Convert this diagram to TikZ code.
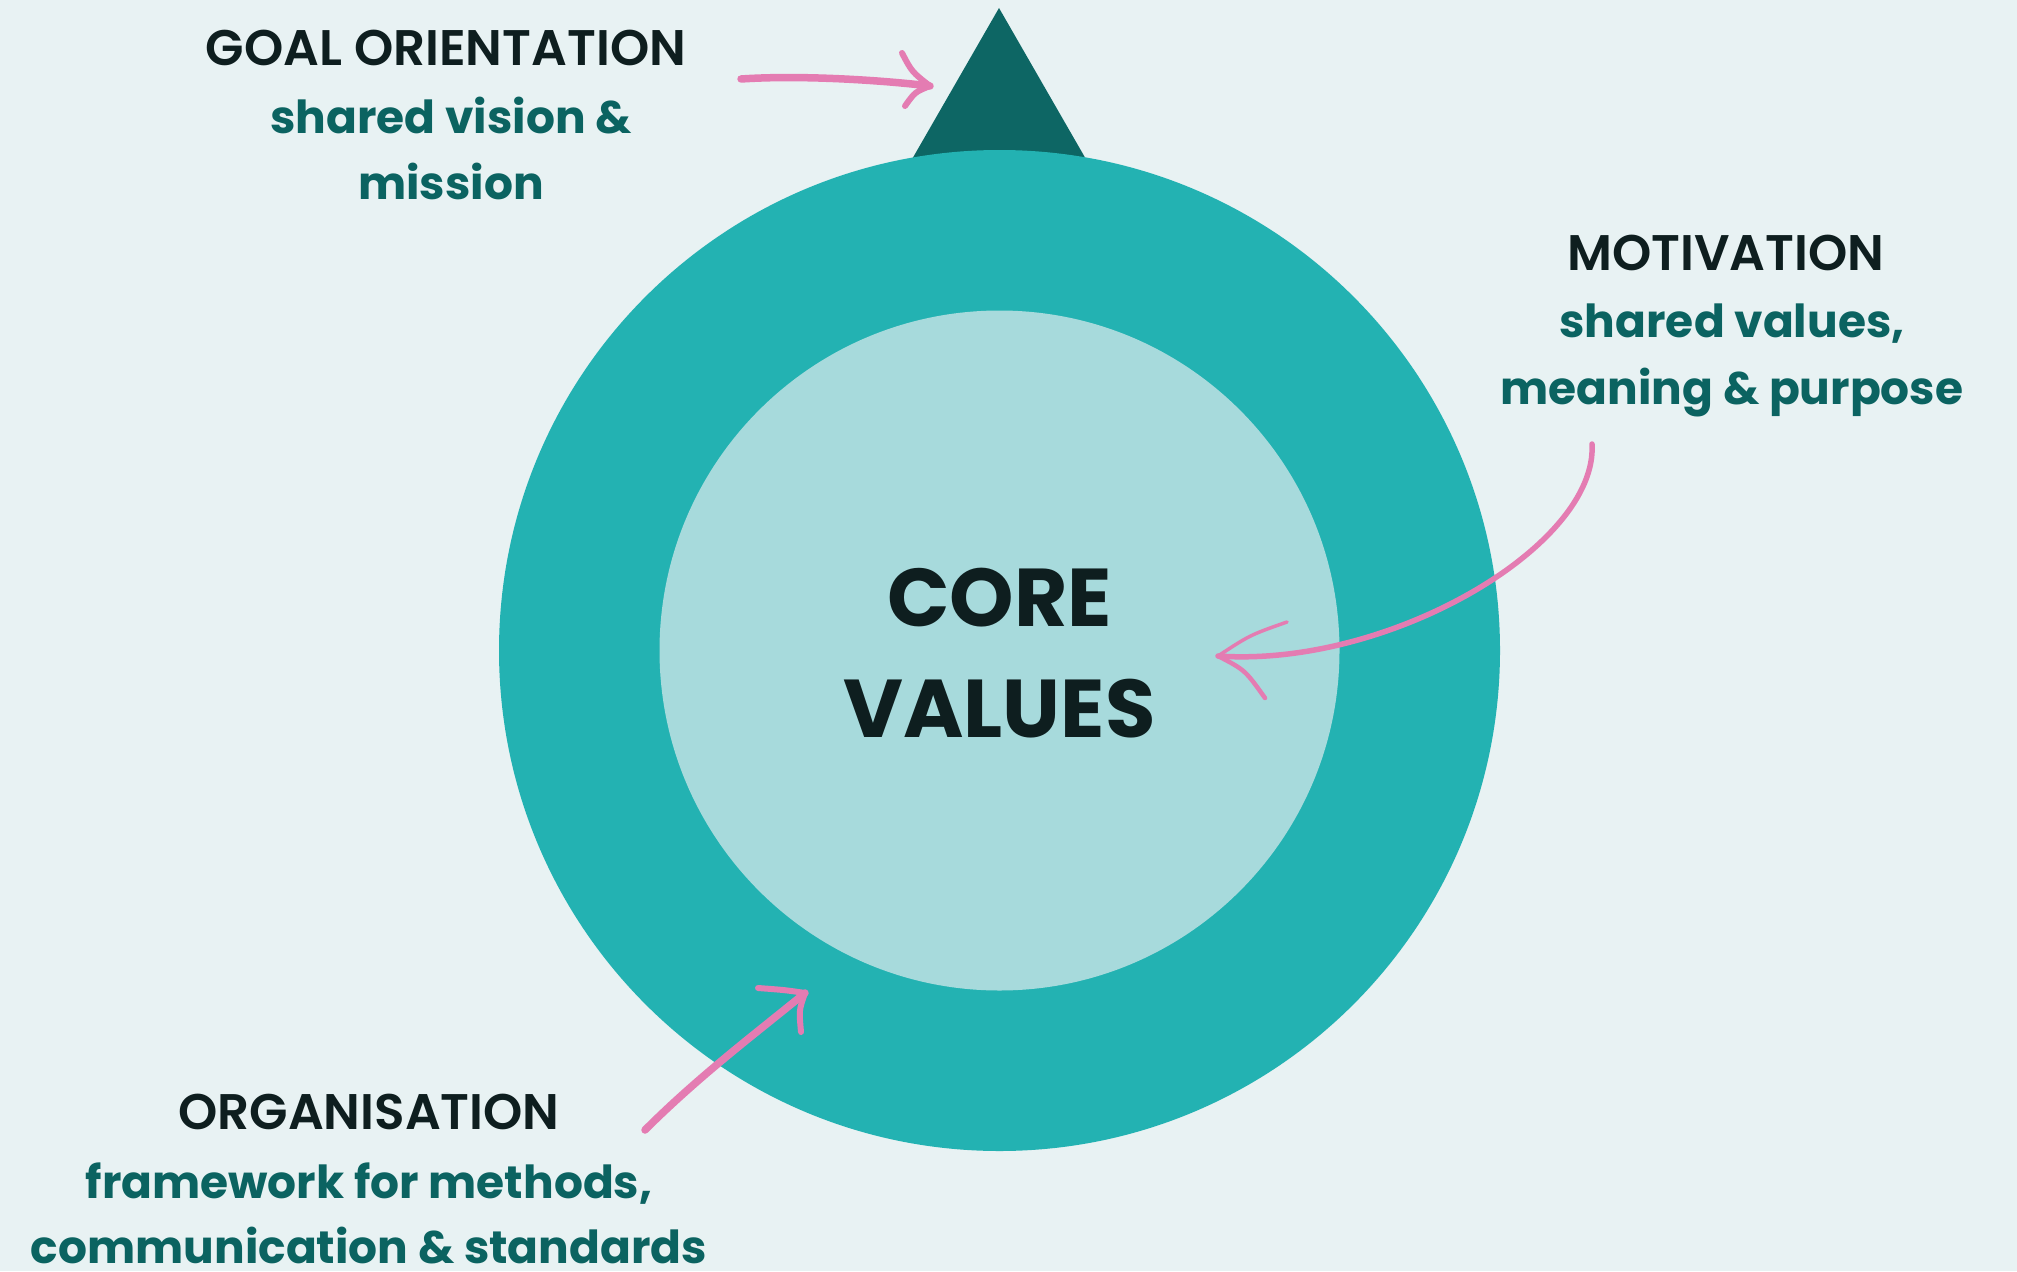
\documentclass[tikz,border=0pt]{standalone}
\usepackage{fontspec}
\setmainfont{Poppins}[UprightFont=* SemiBold, BoldFont=* Bold]
\definecolor{bg}{HTML}{E8F2F3}
\definecolor{ring}{HTML}{23B2B2}
\definecolor{core}{HTML}{A7DADC}
\definecolor{peak}{HTML}{0D6664}
\definecolor{pk}{HTML}{E47CB2}
\definecolor{dk}{HTML}{0E1E1F}
\definecolor{tl}{HTML}{0B6361}
\tikzset{
  head/.style={text=dk, font=\fontsize{50}{60}\selectfont, anchor=base, inner sep=0pt},
  sub/.style={text=tl, font=\bfseries\fontsize{45.5}{60}\selectfont, anchor=base, inner sep=0pt},
  big/.style={text=dk, font=\bfseries\fontsize{82}{90}\selectfont, anchor=base, inner sep=0pt},
  hand/.style={draw=pk, line width=7.5pt, line cap=round, line join=round},
  barb/.style={draw=pk, line width=6pt, line cap=round}
}
\begin{document}
\begin{tikzpicture}[x=1pt,y=-1pt]
\fill[bg] (0,0) rectangle (2017,1271);
\useasboundingbox (0,0) rectangle (2017,1271);
% peak triangle
\fill[peak] (999,8) -- (1167,300) -- (831,300) -- cycle;
% circles
\node[circle, fill=ring, minimum size=1001pt, inner sep=0pt] (outer) at (999.5,650.5) {};
\node[circle, fill=core, minimum size=680pt, inner sep=0pt] (inner) at (999.5,650.5) {};
% centre text
\node[big] (core) at (999.5,626) {CORE};
\node[big] (values) at (999.5,737) {VALUES};
% goal orientation
\node[head] (g1) at (446,66) {GOAL ORIENTATION};
\node[sub] (g2) at (451,133) {shared vision \&};
\node[sub] (g3) at (451,199) {mission};
% motivation
\node[head] (m1) at (1726,270) {MOTIVATION};
\node[sub] (m2) at (1732,337) {shared values,};
\node[sub] (m3) at (1732,404) {meaning \& purpose};
% organisation
\node[head] (o1) at (369,1129) {ORGANISATION};
\node[sub] (o2) at (369,1198) {framework for methods,};
\node[sub] (o3) at (369,1263) {communication \& standards};
% arrows
\coordinate (ga) at (741,79);
\coordinate (gt) at (930,86);
\coordinate (gb1) at (902,53);
\coordinate (gb2) at (905,106);
\draw[hand] (ga) .. controls (800,75) and (880,80) .. (gt);
\draw[barb] (gb1) .. controls (912,72) .. (gt);
\draw[barb] (gt) .. controls (915,92) .. (gb2);
\coordinate (ma) at (1592,444);
\coordinate (mt) at (1218,656);
\coordinate (mb1) at (1287,622);
\coordinate (mb2) at (1265,698);
\draw[hand, line width=5.5pt] (ma) .. controls (1598,545) and (1390,668) .. (mt);
\draw[barb, line width=3.5pt] (mb1) .. controls (1250,635) .. (mt);
\draw[barb, line width=4.5pt] (mt) .. controls (1245,670) .. (mb2);
\coordinate (oa) at (645,1130);
\coordinate (ot) at (805,993);
\coordinate (ob1) at (758,988);
\coordinate (ob2) at (801,1032);
\draw[hand] (oa) .. controls (700,1075) and (760,1030) .. (ot);
\draw[barb] (ob1) .. controls (785,990) .. (ot);
\draw[barb] (ot) .. controls (799,1010) .. (ob2);
\end{tikzpicture}
\end{document}
